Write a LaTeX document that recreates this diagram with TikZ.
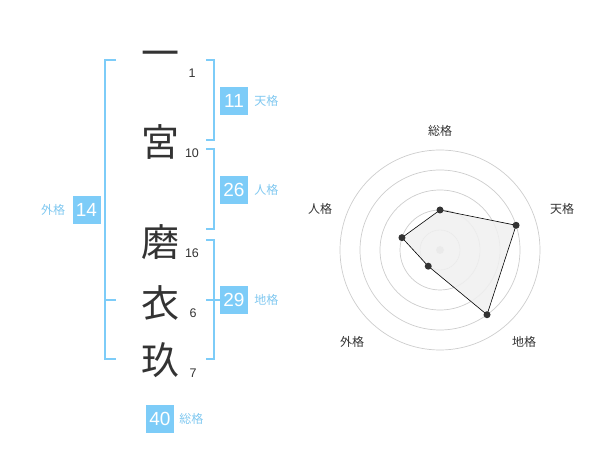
\documentclass[tikz,border=0pt]{standalone}
\usepackage{fontspec}
\setmainfont{Noto Sans CJK JP}
\newfontfamily\numfont{Liberation Sans}
\usetikzlibrary{positioning}
\definecolor{kakublue}{RGB}{125,204,248}
\definecolor{labelblue}{RGB}{128,200,240}
\definecolor{inkgray}{RGB}{51,51,51}
\definecolor{ringgray}{RGB}{205,205,205}
\definecolor{areagray}{RGB}{240,240,240}
\tikzset{
        kanji/.style={inner sep=0pt, text=inkgray, font=\fontsize{38}{38}\selectfont},
        strokes/.style={inner sep=0pt, text=inkgray, font=\numfont\fontsize{12.5}{12.5}\selectfont},
        bracket/.style={draw=kakublue, line width=2pt},
        kakubox/.style={fill=kakublue, text=white, minimum size=28pt, inner sep=0pt, font=\numfont\fontsize{19}{19}\selectfont},
        kakulabel/.style={inner sep=0pt, text=labelblue, font=\fontsize{12}{12}\selectfont},
        axislabel/.style={inner sep=0pt, text=inkgray, font=\fontsize{12}{12}\selectfont},
}
\begin{document}
\begin{tikzpicture}[x=1pt, y=-1pt]
        \useasboundingbox (0,0) rectangle (600,470);
        \node[kanji] (ichi) at (160,59) {一};
        \node[kanji] (miya) at (160,142) {宮};
        \node[kanji] (ma) at (160,242) {磨};
        \node[kanji] (i) at (160,303) {衣};
        \node[kanji] (ku) at (160,360) {玖};
        \node[strokes] (n-ichi) at (192,73) {1};
        \node[strokes] (n-miya) at (192,153) {10};
        \node[strokes] (n-ma) at (192,253) {16};
        \node[strokes] (n-i) at (193,313) {6};
        \node[strokes] (n-ku) at (193,373) {7};
        \draw[bracket] (116,60) -- (105,60) -- (105,359) -- (116,359);
        \draw[bracket] (105,300) -- (116,300);
        \draw[bracket] (206,60) -- (214,60) -- (214,140) -- (206,140);
        \draw[bracket] (206,149) -- (214,149) -- (214,229) -- (206,229);
        \draw[bracket] (206,240) -- (214,240) -- (214,359) -- (206,359);
        \draw[bracket] (206,300) -- (220,300);
        \node[kakubox] (ten) at (234,101) {11};
        \node[kakulabel, right=6pt of ten] (ten-l) {天格};
        \node[kakubox] (jin) at (234,190) {26};
        \node[kakulabel, right=6pt of jin] (jin-l) {人格};
        \node[kakubox] (chi) at (234,300) {29};
        \node[kakulabel, right=6pt of chi] (chi-l) {地格};
        \node[kakubox] (gai) at (86.5,210) {14};
        \node[kakulabel, left=7pt of gai] (gai-l) {外格};
        \node[kakubox] (sou) at (160,419) {40};
        \node[kakulabel, right=5pt of sou] (sou-l) {総格};
        \begin{scope}[shift={(440,250)}, y=1pt]
                \foreach \r in {20, 40, 60, 80, 100}{
                        \draw [ringgray, line width=0.7pt] (0,0) circle (\r);
                    }
                \fill [ringgray] (0,0) circle (4);
                \coordinate (p-sou) at (90:40);
                \coordinate (p-ten) at (18:80);
                \coordinate (p-chi) at (-54:80);
                \coordinate (p-gai) at (-126:20);
                \coordinate (p-jin) at (162:40);
                \filldraw [fill=areagray, fill opacity=0.85, draw=black, line width=0.6pt] (p-sou) -- (p-ten) -- (p-chi) -- (p-gai) -- (p-jin) -- cycle;
                \foreach \p in {sou, ten, chi, gai, jin}{
                        \fill [inkgray] (p-\p) circle (3.5);
                    }
        \end{scope}
        \node[axislabel] (a-sou) at (440,131) {総格};
        \node[axislabel] (a-ten) at (562,209) {天格};
        \node[axislabel] (a-chi) at (524,342) {地格};
        \node[axislabel] (a-gai) at (352,342) {外格};
        \node[axislabel] (a-jin) at (320,209) {人格};
\end{tikzpicture}
\end{document}
